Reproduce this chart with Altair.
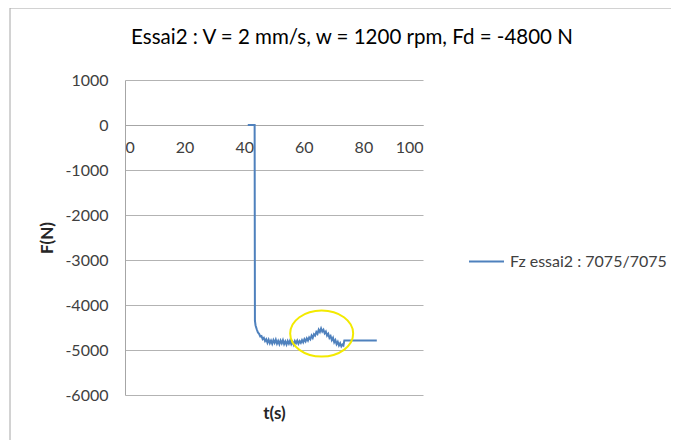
import altair as alt
import pandas as pd

TITLE = "Essai2 : V = 2 mm/s, w = 1200 rpm, Fd = -4800 N"
SERIES = "Fz essai2 : 7075/7075"
X_TICKS = [0, 20, 40, 60, 80, 100]
Y_TICKS = [1000, 0, -1000, -2000, -3000, -4000, -5000, -6000]

T = [41.2, 43.5, 43.6, 43.8, 44.2, 44.6, 45.0, 45.4, 45.8, 46.2, 46.6, 47.0, 47.4, 47.8,
     48.2, 48.6, 49.0, 49.4, 49.8, 50.2, 50.6, 51.0, 51.4, 51.8, 52.2, 52.6, 53.0, 53.4,
     53.8, 54.2, 54.6, 55.0, 55.4, 55.8, 56.2, 56.6, 57.0, 57.4, 57.8, 58.2, 58.6, 59.0,
     59.4, 59.8, 60.2, 60.6, 61.0, 61.4, 61.8, 62.2, 62.6, 63.0, 63.4, 63.8, 64.2, 64.6,
     65.0, 65.4, 65.8, 66.2, 66.6, 67.0, 67.4, 67.8, 68.2, 68.6, 69.0, 69.4, 69.8, 70.2,
     70.6, 71.0, 71.4, 71.8, 72.2, 72.6, 73.0, 73.3, 73.6, 84.5]
F = [0, 0, -4350, -4450, -4540, -4610, -4640, -4700, -4690, -4760, -4730, -4800, -4760, -4840,
     -4770, -4850, -4790, -4860, -4780, -4840, -4770, -4860, -4800, -4870, -4790, -4850, -4780, -4870,
     -4810, -4880, -4800, -4860, -4790, -4870, -4820, -4880, -4800, -4850, -4790, -4860, -4800, -4840,
     -4780, -4830, -4760, -4810, -4740, -4790, -4720, -4760, -4680, -4730, -4650, -4680, -4600, -4640,
     -4550, -4600, -4520, -4590, -4550, -4630, -4590, -4680, -4640, -4730, -4690, -4780, -4730, -4830,
     -4780, -4870, -4820, -4900, -4850, -4920, -4880, -4900, -4790, -4790]

MARK_T = [66.0]
MARK_F = [-4635]

FONT = "Lato"
BLUE = "#4f81bd"
YELLOW = "#f3ea00"
W, H = 298, 315

df = pd.DataFrame({"t": T, "F": F, "s": [SERIES] * len(T)})
mark_df = pd.DataFrame({"t": MARK_T, "F": MARK_F})
frame_df = pd.DataFrame({"k": [0]})

xscale = alt.Scale(domain=[0, 100], nice=False, zero=False)
yscale = alt.Scale(domain=[-6000, 1000], nice=False, zero=False)

line = alt.Chart(df).mark_line(strokeWidth=2).encode(
    x=alt.X("t:Q", scale=xscale,
            axis=alt.Axis(values=X_TICKS, grid=False, offset=-270, labelPadding=14,
                          labelExpr="'' + datum.value",
                          title="t(s)", titleY=288, titleBaseline="middle",
                          titleX=W / 2, titleAlign="center")),
    y=alt.Y("F:Q", scale=yscale,
            axis=alt.Axis(values=Y_TICKS, grid=True, labelPadding=17,
                          labelExpr="'' + datum.value",
                          title="F(N)", titleX=-78, titleY=H / 2, titleAngle=-90,
                          titleAlign="center", titleBaseline="middle")),
    color=alt.Color("s:N", scale=alt.Scale(domain=[SERIES], range=[BLUE]),
                    legend=alt.Legend(title=None, orient="none", legendX=343, legendY=163,
                                      symbolType="stroke", symbolSize=1225,
                                      symbolStrokeWidth=2, labelOffset=5,
                                      labelFont=FONT, labelFontSize=16,
                                      labelColor="#404040")),
)

ellipse = alt.Chart(mark_df).mark_point(
    shape="M -1 0 A 1 0.73 0 1 0 1 0 A 1 0.73 0 1 0 -1 0 Z",
    size=3969, filled=False, stroke=YELLOW, strokeWidth=2, opacity=1,
).encode(x=alt.X("t:Q", scale=xscale), y=alt.Y("F:Q", scale=yscale))

frame = alt.Chart(frame_df).mark_rect(
    fillOpacity=0, stroke="#a6a6a6", strokeWidth=1
).encode(x=alt.value(-115), x2=alt.value(600), y=alt.value(-72), y2=alt.value(400))

chart = alt.layer(frame, line, ellipse).properties(
    width=W, height=H,
    title=alt.TitleParams(TITLE, font=FONT, fontSize=20.5, fontWeight="normal",
                          color="#000000", anchor="middle", dx=78, dy=69, offset=28),
    autosize=alt.AutoSizeParams(type="none"),
    padding={"left": 117, "top": 72, "right": 248, "bottom": 45},
).configure_axis(
    labelFont=FONT, labelFontSize=16, labelColor="#404040",
    titleFont=FONT, titleFontSize=17, titleFontWeight="bold", titleColor="#262626",
    gridColor="#b3b3b3", gridWidth=1, domainColor="#a6a6a6", ticks=False,
).configure_view(stroke=None)

chart.save("out.html", embed_options={"renderer": "svg", "actions": False})
